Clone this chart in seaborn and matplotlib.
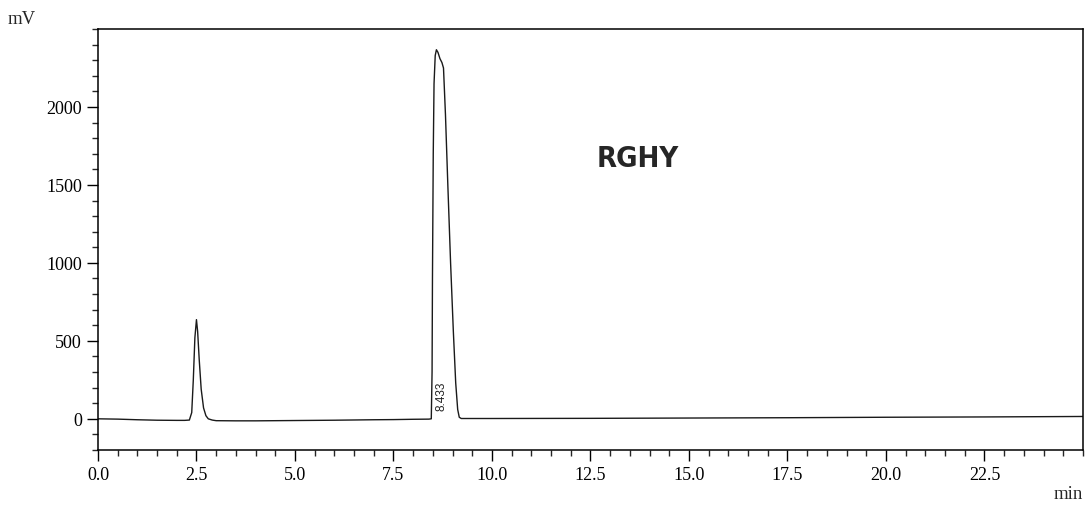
import pandas as pd
import numpy as np
import matplotlib.pyplot as plt
import seaborn as sns
from matplotlib.ticker import MultipleLocator

# chromatogram points (time in min, signal in mV)
time_min = [0.0, 0.5, 1.0, 1.5, 2.0, 2.2, 2.32, 2.38, 2.42, 2.46, 2.5, 2.53,
            2.57, 2.62, 2.68, 2.74, 2.8, 2.9, 3.0, 3.5, 4.0, 5.0, 6.0, 7.0,
            7.5, 8.0, 8.4, 8.46, 8.48, 8.49, 8.51, 8.53, 8.56, 8.59, 8.63,
            8.68, 8.73, 8.77, 8.82, 8.88, 8.95, 9.02, 9.08, 9.13, 9.17, 9.22,
            9.5, 10.0, 12.5, 15.0, 17.5, 20.0, 22.5, 25.0]
signal_mv = [0, -2, -6, -9, -10, -10, -8, 40, 250, 520, 636, 560,
             380, 190, 70, 20, 0, -8, -12, -13, -13, -11, -9, -6,
             -5, -3, -2, 0, 300, 900, 1700, 2150, 2330, 2367, 2350,
             2310, 2285, 2250, 1950, 1500, 1000, 560, 230, 60, 10, 2,
             2, 2, 3, 5, 7, 10, 12, 15]
peak_label = "8.433"
peak_label_pos = (8.73, 150)
sample_name = "RGHY"
x_ticks = [0.0, 2.5, 5.0, 7.5, 10.0, 12.5, 15.0, 17.5, 20.0, 22.5]
y_ticks = [0, 500, 1000, 1500, 2000]

df = pd.DataFrame({"time": time_min, "signal": signal_mv})

sns.set_style("ticks")
plt.rcParams['font.family'] = ['Liberation Serif', 'DejaVu Serif']

fig = plt.figure(figsize=(10.86, 5.06), dpi=100)
ax = fig.add_axes([0.0902, 0.1087, 0.9070, 0.8320])

sns.lineplot(data=df, x="time", y="signal", sort=False, ax=ax,
             color="#1a1a1a", linewidth=1.0)

ax.set_xlim(0, 25)
ax.set_ylim(-200, 2500)
ax.set_xticks(x_ticks)
ax.set_xticklabels([f"{t:.1f}" for t in x_ticks])
ax.set_yticks(y_ticks)
ax.xaxis.set_minor_locator(MultipleLocator(0.5))
ax.yaxis.set_minor_locator(MultipleLocator(100))
ax.tick_params(which="major", length=8, width=1.0, labelsize=13,
               colors="black", direction="out")
ax.tick_params(which="minor", length=4, width=1.0, direction="out")
for s in ax.spines.values():
    s.set_visible(True)
    s.set_linewidth(1.1)
    s.set_color("black")
ax.set_xlabel("")
ax.set_ylabel("")

fig.text(8 / 1086, 1 - 20 / 506, "mV", fontsize=13.5, va="center", ha="left")
fig.text(1083 / 1086, 1 - 495 / 506, "min", fontsize=13.5, va="center", ha="right")

ax.text(peak_label_pos[0], peak_label_pos[1], peak_label, rotation=90,
        fontsize=8.5, ha="center", va="center", color="#222222",
        family=["Liberation Sans", "DejaVu Sans"])
ax.text(13.7, 1673, sample_name, fontsize=21, ha="center", va="center",
        family=["DejaVu Sans"], fontstretch="condensed", fontweight="bold")

fig.savefig("out.png", dpi=100)
